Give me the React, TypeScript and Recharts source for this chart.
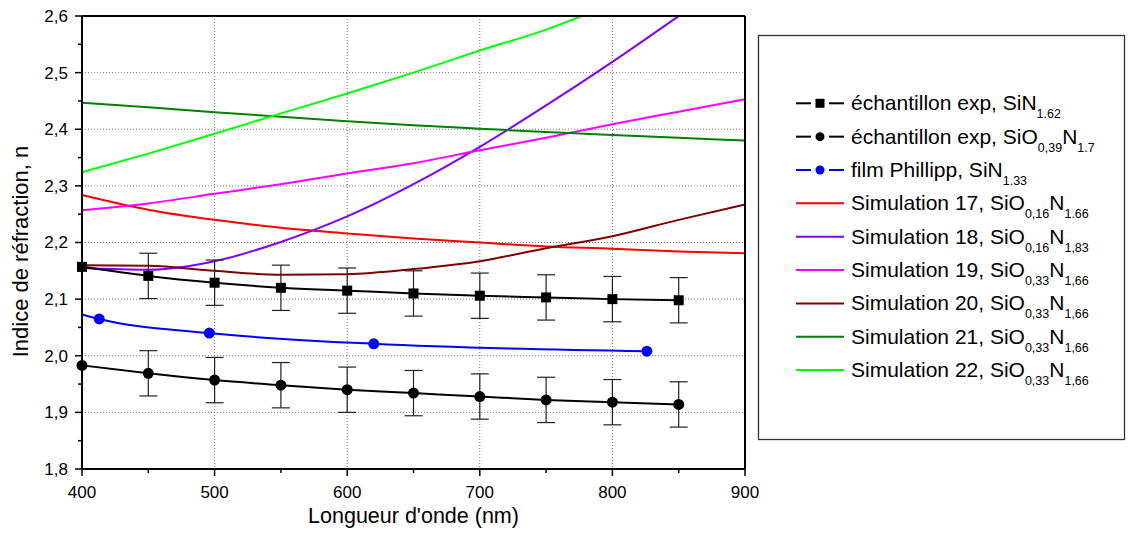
import React from "react";
import { ComposedChart, Line, XAxis, YAxis, CartesianGrid, ErrorBar } from "recharts";

// wavelengths (nm) of the measured samples
const wavelengths = [400, 450, 500, 550, 600, 650, 700, 750, 800, 850];
const sinExp = [2.157, 2.141, 2.129, 2.12, 2.115, 2.11, 2.106, 2.103, 2.1, 2.098];
const sionExp = [1.983, 1.969, 1.957, 1.948, 1.94, 1.934, 1.928, 1.922, 1.918, 1.914];
// no error bar drawn on the 400 nm point
const expError = [0, 0.04, 0.04, 0.04, 0.04, 0.04, 0.04, 0.04, 0.04, 0.04];

// film Phillipp (first point = start of the curve, no marker)
const phillippX = [400, 413, 496, 620, 826];
const phillippN = [2.073, 2.065, 2.04, 2.021, 2.008];

// simulations
const simX = [400, 450, 500, 550, 600, 650, 700, 750, 800, 850, 900];
const sim17 = [2.284, 2.258, 2.24, 2.226, 2.216, 2.207, 2.2, 2.193, 2.189, 2.184, 2.181];
const sim18X = [400, 450, 500, 550, 600, 650, 700, 750, 800, 850];
const sim18 = [2.155, 2.152, 2.167, 2.201, 2.246, 2.303, 2.369, 2.442, 2.519, 2.6];
const sim19 = [2.257, 2.269, 2.286, 2.303, 2.322, 2.34, 2.363, 2.385, 2.409, 2.431, 2.453];
const sim20 = [2.16, 2.159, 2.15, 2.143, 2.144, 2.153, 2.167, 2.19, 2.211, 2.24, 2.267];
const sim21 = [2.447, 2.439, 2.43, 2.422, 2.414, 2.407, 2.401, 2.395, 2.39, 2.385, 2.38];
const sim22X = [400, 450, 500, 550, 600, 650, 700, 750, 777];
const sim22 = [2.324, 2.357, 2.392, 2.428, 2.463, 2.5, 2.539, 2.576, 2.6];

// axes
const xTicks = [400, 450, 500, 550, 600, 650, 700, 750, 800, 850, 900];
const yTicks = [1.8, 1.85, 1.9, 1.95, 2.0, 2.05, 2.1, 2.15, 2.2, 2.25, 2.3, 2.35, 2.4, 2.45, 2.5, 2.55, 2.6];
const rightTicks = [0, 1, 2, 3, 4, 5, 6, 7, 8, 9, 10];
const gridX = [500, 600, 700, 800];
const gridY = [1.9, 2.0, 2.1, 2.2, 2.3, 2.4, 2.5];

const FONT = "'Liberation Sans', Arial, Helvetica, sans-serif";

const toPoints = (xs: number[], ys: number[], errs?: number[]) =>
  xs.map((x, i) => ({ x, n: ys[i], err: errs ? errs[i] : undefined }));

const sims = [
  { key: "s17", color: "#ff0000", xs: simX, ys: sim17 },
  { key: "s18", color: "#8000ff", xs: sim18X, ys: sim18 },
  { key: "s19", color: "#ff00ff", xs: simX, ys: sim19 },
  { key: "s20", color: "#800000", xs: simX, ys: sim20 },
  { key: "s21", color: "#008000", xs: simX, ys: sim21 },
  { key: "s22", color: "#00ff00", xs: sim22X, ys: sim22 },
];

// legend: even parts normal, odd parts subscript
const legendItems = [
  { color: "#000", marker: "square", parts: ["échantillon exp, SiN", "1.62"] },
  { color: "#000", marker: "circle", parts: ["échantillon exp, SiO", "0,39", "N", "1.7"] },
  { color: "#0000ff", marker: "circle", parts: ["film Phillipp, SiN", "1.33"] },
  { color: "#ff0000", parts: ["Simulation 17, SiO", "0,16", "N", "1.66"] },
  { color: "#8000ff", parts: ["Simulation 18, SiO", "0,16", "N", "1,83"] },
  { color: "#ff00ff", parts: ["Simulation 19, SiO", "0,33", "N", "1,66"] },
  { color: "#800000", parts: ["Simulation 20, SiO", "0,33", "N", "1,66"] },
  { color: "#008000", parts: ["Simulation 21, SiO", "0,33", "N", "1,66"] },
  { color: "#00ff00", parts: ["Simulation 22, SiO", "0,33", "N", "1,66"] },
];

const isTenth = (v: number) => Math.abs(v * 10 - Math.round(v * 10)) < 1e-6;

const BottomTick = (p: any) => {
  const major = p.payload.value % 100 === 0;
  return (
    <g>
      <line x1={p.x} x2={p.x} y1={p.y} y2={p.y + (major ? 7 : 4)} stroke="#000" strokeWidth={1.5} />
      {major && (
        <text x={p.x} y={p.y + 29} textAnchor="middle" fontSize={17} fontFamily={FONT} fill="#000">
          {p.payload.value}
        </text>
      )}
    </g>
  );
};

const TopTick = (p: any) => {
  const major = p.payload.value % 100 === 0;
  return <line x1={p.x} x2={p.x} y1={p.y} y2={p.y + (major ? 7 : 4)} stroke="#000" strokeWidth={1.5} />;
};

const LeftTick = (p: any) => {
  const major = isTenth(p.payload.value);
  return (
    <g>
      <line x1={p.x - (major ? 7 : 4)} x2={p.x} y1={p.y} y2={p.y} stroke="#000" strokeWidth={1.5} />
      {major && (
        <text x={p.x - 14} y={p.y} dy="0.35em" textAnchor="end" fontSize={17} fontFamily={FONT} fill="#000">
          {p.payload.value.toFixed(1).replace(".", ",")}
        </text>
      )}
    </g>
  );
};

const RightTick = (p: any) => (
  <line x1={p.x - 4} x2={p.x} y1={p.y} y2={p.y} stroke="#000" strokeWidth={1.5} />
);

const xTitle = (p: any) => {
  const vb = p.viewBox;
  return (
    <text x={vb.x + vb.width / 2} y={vb.y + 54} textAnchor="middle" fontSize={21.5} fontFamily={FONT} fill="#000">
      Longueur d'onde (nm)
    </text>
  );
};

const yTitle = (p: any) => {
  const vb = p.viewBox;
  const cx = vb.x - 2;
  const cy = vb.y + vb.height / 2 + 9;
  return (
    <text
      x={cx}
      y={cy}
      transform={`rotate(-90, ${cx}, ${cy})`}
      textAnchor="middle"
      dominantBaseline="central"
      fontSize={22}
      fontFamily={FONT}
      fill="#000"
    >
      Indice de réfraction, n
    </text>
  );
};

const squareDot = (p: any) => (
  <rect key={`sq-${p.index}`} x={p.cx - 5} y={p.cy - 5} width={10} height={10} fill="#000" />
);
const circleDot = (p: any) => <circle key={`ci-${p.index}`} cx={p.cx} cy={p.cy} r={5.5} fill="#000" />;
const blueDot = (p: any) =>
  p.index === 0 ? (
    <g key={`bl-${p.index}`} />
  ) : (
    <circle key={`bl-${p.index}`} cx={p.cx} cy={p.cy} r={5.5} fill="#0000ff" />
  );

function Legend() {
  return (
    <svg width={1132} height={539} style={{ position: "absolute", left: 0, top: 0, pointerEvents: "none" }}>
      <rect x={758.5} y={35.5} width={366} height={404} fill="none" stroke="#333" strokeWidth={1.3} />
      {legendItems.map((item, i) => {
        const cy = 103.3 + i * 33.35;
        return (
          <g key={i}>
            {item.marker ? (
              <>
                <line x1={796} x2={811} y1={cy} y2={cy} stroke={item.color} strokeWidth={2} />
                <line x1={829} x2={844} y1={cy} y2={cy} stroke={item.color} strokeWidth={2} />
                {item.marker === "square" ? (
                  <rect x={815.5} y={cy - 4.5} width={9} height={9} fill={item.color} />
                ) : (
                  <circle cx={820} cy={cy} r={4.5} fill={item.color} />
                )}
              </>
            ) : (
              <line x1={796} x2={844} y1={cy} y2={cy} stroke={item.color} strokeWidth={2} />
            )}
            <text x={851} y={cy + 7} fontSize={21} fontFamily={FONT} fill="#000">
              {item.parts.map((part, j) => (
                <tspan
                  key={j}
                  fontSize={j % 2 === 1 ? 12.5 : 21}
                  dy={j === 0 ? 0 : j % 2 === 1 ? 8 : -8}
                >
                  {part}
                </tspan>
              ))}
            </text>
          </g>
        );
      })}
    </svg>
  );
}

export default function App() {
  return (
    <div style={{ position: "absolute", left: 0, top: 0, width: 1132, height: 539, background: "#fff" }}>
      <ComposedChart width={1132} height={539} margin={{ top: 10, right: 377, bottom: 40, left: 22 }}>
        <CartesianGrid
          xAxisId="x"
          yAxisId="n"
          stroke="#777"
          strokeDasharray="1 2"
          verticalValues={gridX}
          horizontalValues={gridY}
        />
        <XAxis
          xAxisId="x"
          dataKey="x"
          type="number"
          domain={[400, 900]}
          ticks={xTicks}
          interval={0}
          height={30}
          tickSize={0}
          tickMargin={0}
          tickLine={false}
          tick={BottomTick}
          axisLine={{ stroke: "#000", strokeWidth: 2 }}
          label={xTitle}
        />
        <XAxis
          xAxisId="top"
          orientation="top"
          type="number"
          domain={[400, 900]}
          ticks={xTicks}
          interval={0}
          height={6}
          tickSize={0}
          tickMargin={0}
          tickLine={false}
          tick={TopTick}
          axisLine={{ stroke: "#000", strokeWidth: 2 }}
        />
        <YAxis
          yAxisId="n"
          type="number"
          domain={[1.8, 2.6]}
          allowDataOverflow
          ticks={yTicks}
          interval={0}
          width={60}
          tickSize={0}
          tickMargin={0}
          tickLine={false}
          tick={LeftTick}
          axisLine={{ stroke: "#000", strokeWidth: 2 }}
          label={yTitle}
        />
        <YAxis
          yAxisId="right"
          orientation="right"
          type="number"
          domain={[0, 10]}
          ticks={rightTicks}
          interval={0}
          width={10}
          tickSize={0}
          tickMargin={0}
          tickLine={false}
          tick={RightTick}
          axisLine={{ stroke: "#000", strokeWidth: 2 }}
        />

        {sims.map((s) => (
          <Line
            key={s.key}
            xAxisId="x"
            yAxisId="n"
            data={toPoints(s.xs, s.ys)}
            dataKey="n"
            type="monotone"
            stroke={s.color}
            strokeWidth={2}
            dot={false}
            activeDot={false}
            isAnimationActive={false}
          />
        ))}

        <Line
          xAxisId="x"
          yAxisId="n"
          data={toPoints(phillippX, phillippN)}
          dataKey="n"
          type="monotone"
          stroke="#0000ff"
          strokeWidth={2}
          dot={blueDot}
          activeDot={false}
          isAnimationActive={false}
        />
        <Line
          xAxisId="x"
          yAxisId="n"
          data={toPoints(wavelengths, sinExp, expError)}
          dataKey="n"
          type="monotone"
          stroke="#000"
          strokeWidth={2}
          dot={squareDot}
          activeDot={false}
          isAnimationActive={false}
        >
          <ErrorBar dataKey="err" width={9} stroke="#222" strokeWidth={1.2} direction="y" isAnimationActive={false} />
        </Line>
        <Line
          xAxisId="x"
          yAxisId="n"
          data={toPoints(wavelengths, sionExp, expError)}
          dataKey="n"
          type="monotone"
          stroke="#000"
          strokeWidth={2}
          dot={circleDot}
          activeDot={false}
          isAnimationActive={false}
        >
          <ErrorBar dataKey="err" width={9} stroke="#222" strokeWidth={1.2} direction="y" isAnimationActive={false} />
        </Line>
      </ComposedChart>
      <Legend />
    </div>
  );
}
